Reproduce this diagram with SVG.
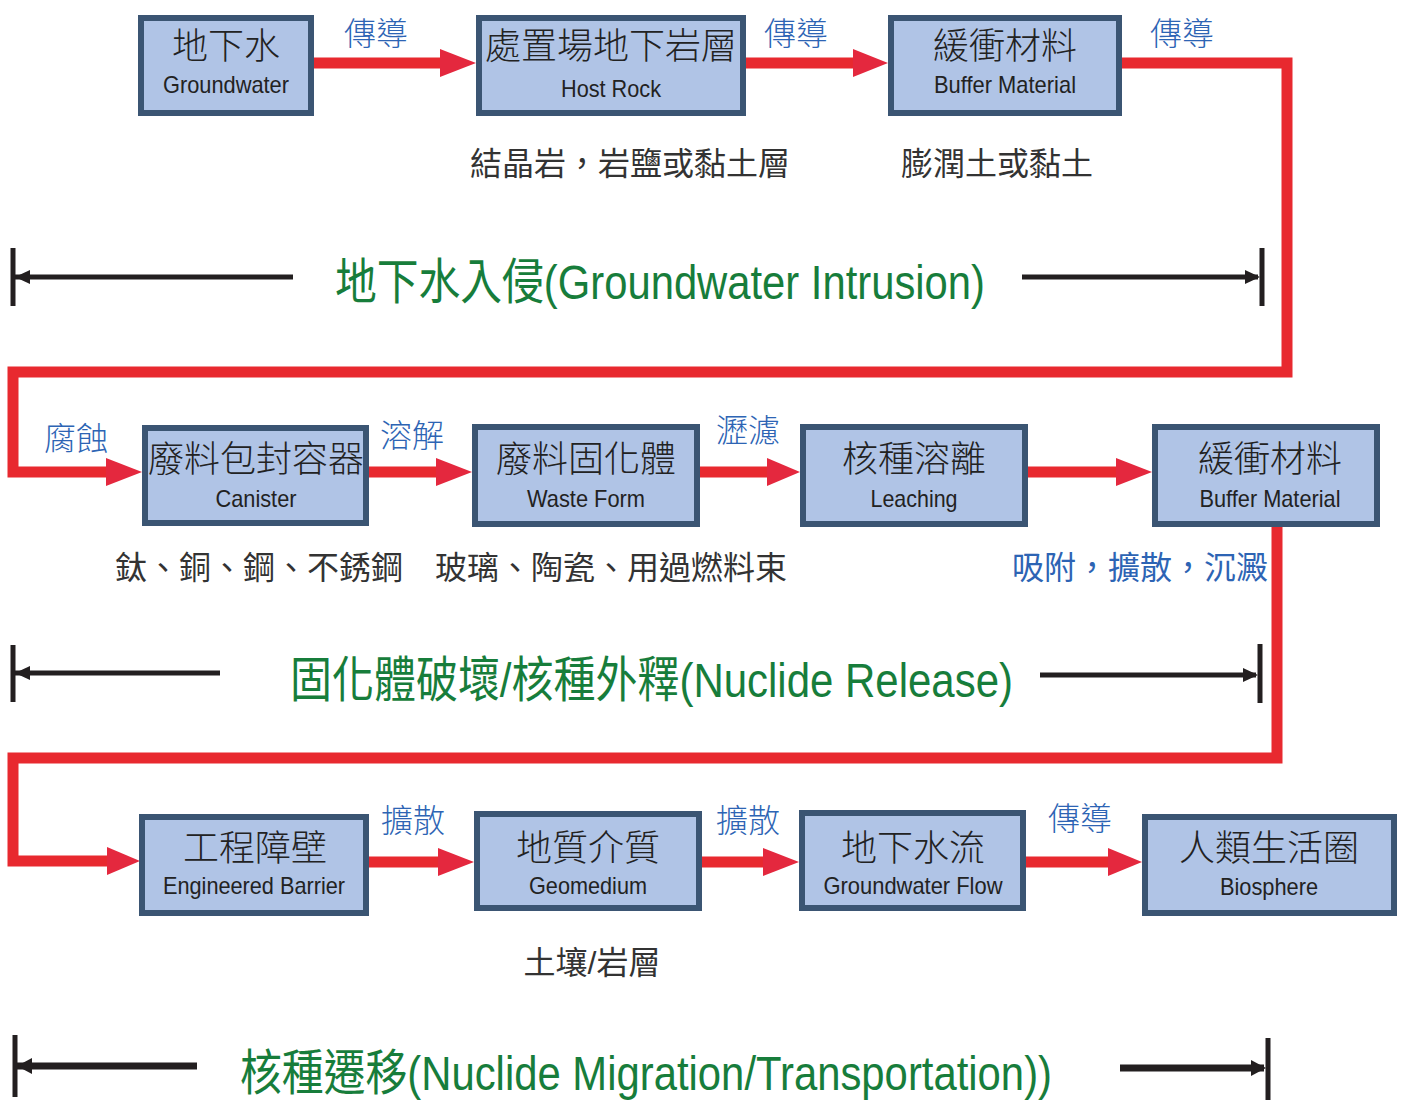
<svg xmlns="http://www.w3.org/2000/svg" width="1402" height="1103" viewBox="0 0 1402 1103">
<style>
.box{fill:#b0c4e6;stroke:#3b5573;stroke-width:6}
.t{font-family:"Noto Sans CJK TC","Noto Sans CJK SC",sans-serif;font-size:36px;font-weight:300;fill:#222;text-anchor:middle}
.e{font-family:"Liberation Sans",Arial,sans-serif;font-size:24px;fill:#222;text-anchor:middle}
.lbl{font-family:"Noto Sans CJK TC","Noto Sans CJK SC",sans-serif;font-size:32px;font-weight:300;fill:#2d64b4}
.sub{font-family:"Liberation Sans","Noto Sans CJK TC","Noto Sans CJK SC",sans-serif;font-size:32px;fill:#333;text-anchor:middle}
.big{font-family:"Liberation Sans","Noto Sans CJK TC","Noto Sans CJK SC",sans-serif;font-size:49px;fill:#177d3b}
.red{fill:none;stroke:#e8292f;stroke-width:11;stroke-linejoin:miter}
.head{fill:#e4283e}
.blk{stroke:#231f20;stroke-width:5;fill:none}
.bhead{fill:#231f20}
</style>
<rect width="1402" height="1103" fill="#fff"/>
<g id="connectors">
<line class="red" x1="314" y1="63" x2="442" y2="63"/><polygon class="head" points="440,49 476,63 440,77"/>
<line class="red" x1="746" y1="63" x2="855" y2="63"/><polygon class="head" points="853,49 888,63 853,77"/>
<polyline class="red" points="1122,63 1287,63 1287,372 13,372 13,472 108,472"/><polygon class="head" points="106,458 142,472 106,486"/>
<line class="red" x1="369" y1="472" x2="438" y2="472"/><polygon class="head" points="436,458 472,472 436,486"/>
<line class="red" x1="700" y1="472" x2="769" y2="472"/><polygon class="head" points="767,458 800,472 767,486"/>
<line class="red" x1="1028" y1="472" x2="1118" y2="472"/><polygon class="head" points="1116,458 1152,472 1116,486"/>
<polyline class="red" points="1277,527 1277,758 13,758 13,861 109,861"/><polygon class="head" points="107,847 140,861 107,875"/>
<line class="red" x1="369" y1="862" x2="440" y2="862"/><polygon class="head" points="438,848 474,862 438,876"/>
<line class="red" x1="702" y1="862" x2="765" y2="862"/><polygon class="head" points="763,848 799,862 763,876"/>
<line class="red" x1="1026" y1="862" x2="1110" y2="862"/><polygon class="head" points="1108,848 1142,862 1108,876"/>
<text class="lbl" x="344" y="45">傳導</text>
<text class="lbl" x="764" y="45">傳導</text>
<text class="lbl" x="1150" y="45">傳導</text>
<text class="lbl" x="44" y="450">腐蝕</text>
<text class="lbl" x="380" y="447">溶解</text>
<text class="lbl" x="716" y="442">瀝濾</text>
<text class="lbl" x="381" y="832">擴散</text>
<text class="lbl" x="716" y="832">擴散</text>
<text class="lbl" x="1048" y="830">傳導</text>
</g>
<g id="n1"><rect class="box" x="141" y="18" width="170" height="95"/><text class="t" x="226" y="59">地下水</text><text class="e" x="226" y="93" textLength="126" lengthAdjust="spacingAndGlyphs">Groundwater</text></g>
<g id="n2"><rect class="box" x="479" y="18" width="264" height="95"/><text class="t" x="611" y="59">處置場地下岩層</text><text class="e" x="611" y="97" textLength="100" lengthAdjust="spacingAndGlyphs">Host Rock</text></g>
<g id="n3"><rect class="box" x="891" y="18" width="228" height="95"/><text class="t" x="1005" y="59">緩衝材料</text><text class="e" x="1005" y="93" textLength="142" lengthAdjust="spacingAndGlyphs">Buffer Material</text></g>
<g id="n4"><rect class="box" x="145" y="428" width="221" height="95"/><text class="t" x="256" y="472">廢料包封容器</text><text class="e" x="256" y="507" textLength="81" lengthAdjust="spacingAndGlyphs">Canister</text></g>
<g id="n5"><rect class="box" x="475" y="427" width="222" height="97"/><text class="t" x="586" y="472">廢料固化體</text><text class="e" x="586" y="507" textLength="118" lengthAdjust="spacingAndGlyphs">Waste Form</text></g>
<g id="n6"><rect class="box" x="803" y="427" width="222" height="97"/><text class="t" x="914" y="472">核種溶離</text><text class="e" x="914" y="507" textLength="87" lengthAdjust="spacingAndGlyphs">Leaching</text></g>
<g id="n7"><rect class="box" x="1155" y="427" width="222" height="97"/><text class="t" x="1270" y="472">緩衝材料</text><text class="e" x="1270" y="507" textLength="141" lengthAdjust="spacingAndGlyphs">Buffer Material</text></g>
<g id="n8"><rect class="box" x="142" y="817" width="224" height="96"/><text class="t" x="255" y="861">工程障壁</text><text class="e" x="254" y="894" textLength="182" lengthAdjust="spacingAndGlyphs">Engineered Barrier</text></g>
<g id="n9"><rect class="box" x="477" y="814" width="222" height="94"/><text class="t" x="588" y="861">地質介質</text><text class="e" x="588" y="894" textLength="118" lengthAdjust="spacingAndGlyphs">Geomedium</text></g>
<g id="n10"><rect class="box" x="802" y="813" width="221" height="95"/><text class="t" x="913" y="861">地下水流</text><text class="e" x="913" y="894" textLength="179" lengthAdjust="spacingAndGlyphs">Groundwater Flow</text></g>
<g id="n11"><rect class="box" x="1145" y="817" width="249" height="96"/><text class="t" x="1269" y="861">人類生活圈</text><text class="e" x="1269" y="895" textLength="98" lengthAdjust="spacingAndGlyphs">Biosphere</text></g>
<g id="notes">
<text class="sub" x="630" y="175">結晶岩，岩鹽或黏土層</text>
<text class="sub" x="997" y="175">膨潤土或黏土</text>
<text class="sub" x="259" y="579">鈦、銅、鋼、不銹鋼</text>
<text class="sub" x="611" y="579">玻璃、陶瓷、用過燃料束</text>
<text class="sub" x="1140" y="579" style="fill:#2d64b4">吸附，擴散，沉澱</text>
<text class="sub" x="592" y="974">土壤/岩層</text>
</g>
<g id="spans">
<line class="blk" x1="13" y1="248" x2="13" y2="306"/><line class="blk" x1="15" y1="277" x2="293" y2="277"/><polygon class="bhead" points="15,277 30,270 30,284"/>
<line class="blk" x1="1022" y1="277" x2="1258" y2="277"/><line class="blk" x1="1262" y1="248" x2="1262" y2="306"/><polygon class="bhead" points="1260,277 1245,270 1245,284"/>
<text class="big" x="335" y="299" textLength="650" lengthAdjust="spacingAndGlyphs">地下水入侵(Groundwater Intrusion)</text>
<line class="blk" x1="13" y1="645" x2="13" y2="702"/><line class="blk" x1="15" y1="673" x2="220" y2="673"/><polygon class="bhead" points="15,673 30,666 30,680"/>
<line class="blk" x1="1040" y1="675" x2="1256" y2="675"/><line class="blk" x1="1260" y1="644" x2="1260" y2="703"/><polygon class="bhead" points="1258,675 1243,668 1243,682"/>
<text class="big" x="290" y="697" textLength="723" lengthAdjust="spacingAndGlyphs">固化體破壞/核種外釋(Nuclide Release)</text>
<line class="blk" x1="15" y1="1035" x2="15" y2="1097"/><line class="blk" style="stroke-width:7" x1="17" y1="1066" x2="197" y2="1066"/><polygon class="bhead" points="17,1066 32,1058 32,1074"/>
<line class="blk" style="stroke-width:7" x1="1120" y1="1068" x2="1264" y2="1068"/><line class="blk" x1="1268" y1="1038" x2="1268" y2="1100"/><polygon class="bhead" points="1266,1068 1251,1060 1251,1076"/>
<text class="big" x="240" y="1090" textLength="812" lengthAdjust="spacingAndGlyphs">核種遷移(Nuclide Migration/Transportation))</text>
</g>
</svg>
